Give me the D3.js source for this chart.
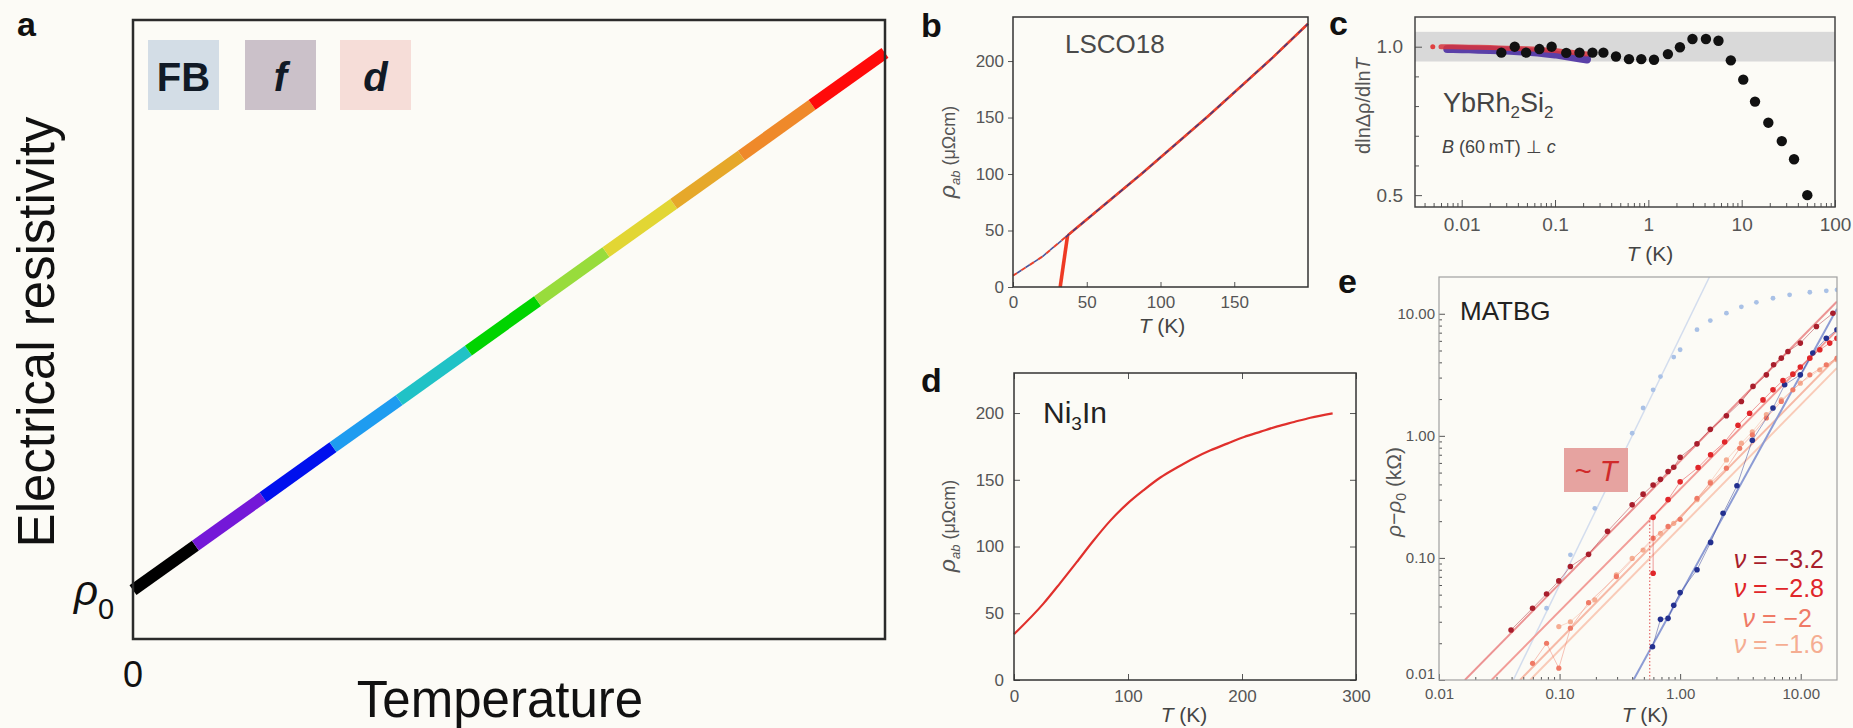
<!DOCTYPE html>
<html>
<head>
<meta charset="utf-8">
<script src="https://cdnjs.cloudflare.com/ajax/libs/d3/7.8.5/d3.min.js"></script>
<style>
  body { margin: 0; background: #fcfbf6; }
  svg { display: block; font-family: "Liberation Sans", Arial, sans-serif; }
</style>
</head>
<body>
<div id="chart"></div>
<script>
"use strict";

// == DATA ==
// panel a : coloured segments of the T-linear resistivity sketch
var aTemps  = [0, 8.3, 17.3, 26.6, 35.4, 44.6, 53.8, 62.9, 71.9, 80.9, 90.3, 100];
var aRho    = [7.9, 15.1, 22.9, 31.0, 38.6, 46.6, 54.6, 62.5, 70.3, 78.1, 86.3, 94.7];
var aColors = ["#000000", "#7418d8", "#0010ee", "#1e9cf0", "#20c2c6", "#00d400",
               "#98dc3c", "#e2d634", "#e6a82a", "#ef892a", "#ff0a0a"];
var aLegend = ["FB", "f", "d"];
var aLegendFill = ["#d3dde6", "#cbc1c9", "#f6ddd8"];

// panel b : LSCO18
var bFitT = [0, 20, 41, 87, 132, 176, 200];
var bFitRho = [10, 27, 50, 100, 151, 203, 233];
var bDataT = [32, 37, 41, 87, 132, 176, 200];
var bDataRho = [0, 45.6, 50, 100, 151, 203, 233];
var bTicksX = [0, 50, 100, 150];
var bTicksY = [0, 50, 100, 150, 200];

// panel c : YbRh2Si2
var cBlackT = [0.0266, 0.037, 0.049, 0.068, 0.092, 0.132, 0.183, 0.252, 0.33, 0.45, 0.62, 0.84, 1.15,
               1.62, 2.18, 2.97, 4.14, 5.64, 7.65, 10.4, 13.9, 19.3, 26.9, 36.4, 50.5];
var cBlackV = [0.98, 1.0, 0.98, 0.992, 1.0, 0.979, 0.98, 0.98, 0.98, 0.967, 0.958, 0.958, 0.956,
               0.975, 0.998, 1.026, 1.026, 1.02, 0.954, 0.889, 0.815, 0.744, 0.682, 0.621, 0.5];
var cRedT = [0.0049, 0.006, 0.007, 0.008, 0.01, 0.012, 0.015, 0.02, 0.025, 0.03, 0.04, 0.05,
             0.065, 0.08, 0.1, 0.12, 0.15, 0.18, 0.22];
var cRedV = [1.0, 1.0, 1.0, 1.0, 0.999, 0.998, 0.998, 0.997, 0.996, 0.995, 0.994, 0.993,
             0.991, 0.989, 0.987, 0.984, 0.981, 0.978, 0.975];
var cBlueT = [0.007, 0.008, 0.01, 0.012, 0.015, 0.02, 0.025, 0.03, 0.04, 0.05, 0.065, 0.08,
              0.1, 0.12, 0.15, 0.18, 0.22];
var cBlueV = [0.992, 0.992, 0.991, 0.991, 0.99, 0.989, 0.988, 0.987, 0.985, 0.983, 0.98, 0.977,
              0.974, 0.97, 0.965, 0.961, 0.957];
var cMajorX = [0.01, 0.1, 1, 10, 100];
var cMajorY = [0.5, 1.0];
var cMinorY = [0.6, 0.7, 0.8, 0.9];
var cBand = [0.95, 1.05];

// panel d : Ni3In
var dT = [0, 25.8, 40.5, 55, 69.8, 84.5, 99, 113.8, 128.4, 143, 157.8, 172.4, 187, 201.8,
          216.4, 231, 245.7, 260, 279.5];
var dRho = [34.3, 57.2, 72.6, 88.3, 104.5, 119.4, 131.8, 142.3, 151.7, 159.2, 166.2, 172.1,
            177.1, 182.1, 186.1, 190, 193.3, 196.5, 199.8];
var dTicksX = [0, 100, 200, 300];
var dTicksY = [0, 50, 100, 150, 200];

// panel e : MATBG
var eT32 = [0.0396, 0.0597, 0.078, 0.0986, 0.123, 0.174, 0.25, 0.40, 0.493, 0.597, 0.687, 0.794,
            0.885, 1.0, 1.38, 1.78, 2.42, 3.22, 4.02, 5.19, 5.96, 6.9, 7.84, 9.93, 13.5, 18.5];
var eV32 = [0.0257, 0.0387, 0.0507, 0.0648, 0.085, 0.107, 0.165, 0.272, 0.333, 0.396, 0.44, 0.51,
            0.553, 0.668, 0.86, 1.13, 1.46, 1.91, 2.54, 3.16, 3.82, 4.33, 4.91, 5.75, 7.87, 10.1];
var eT28 = [0.597, 0.597, 0.794, 1.0, 1.41, 1.79, 2.34, 3.02, 3.77, 4.87, 5.89, 7.13, 8.61,
            9.93, 11.9, 14.4, 17.4, 20];
var eV28 = [0.0748, 0.215, 0.30, 0.42, 0.55, 0.70, 0.89, 1.22, 1.53, 1.97, 2.38, 2.84, 3.2,
            3.66, 4.33, 5.07, 5.75, 6.3];
var eT20 = [0.0597, 0.078, 0.0986, 0.123, 0.174, 0.296, 0.597, 0.794, 1.0, 1.38, 1.78, 2.42,
            3.12, 3.97, 5.19, 6.9, 8.61, 11.9, 16.3, 20];
var eV20 = [0.0137, 0.02, 0.0125, 0.0266, 0.043, 0.0703, 0.145, 0.181, 0.207, 0.308, 0.41, 0.543,
            0.79, 1.02, 1.40, 1.91, 2.38, 3.16, 3.82, 4.33];
var eT16 = [0.0986, 0.123, 0.196, 0.296, 0.40, 0.493, 0.687, 0.885, 1.38, 1.78, 2.42, 3.22,
            3.97, 5.19, 6.9, 9.93, 14.4, 20];
var eV16 = [0.0274, 0.030, 0.0453, 0.0726, 0.099, 0.116, 0.159, 0.192, 0.30, 0.42, 0.635, 0.87,
            1.08, 1.49, 1.97, 2.7, 3.47, 4.2];
var eTBlue = [0.59, 0.687, 0.794, 0.885, 1.0, 1.38, 1.79, 2.27, 2.96, 3.97, 5.89, 7.36, 9.93,
              12.6, 16.3, 20];
var eVBlue = [0.0187, 0.0314, 0.032, 0.041, 0.052, 0.08, 0.134, 0.232, 0.39, 0.92, 1.69, 2.62,
              3.16, 4.76, 6.3, 7.4];
var eTPale = [0.078, 0.123, 0.196, 0.40, 0.493, 0.597, 0.687, 0.885, 1.0, 1.38, 1.78, 2.42,
              3.22, 4.29, 5.89, 8.09, 11.9, 16.3, 20];
var eVPale = [0.0387, 0.106, 0.255, 1.05, 1.69, 2.38, 3.06, 4.42, 5.07, 7.4, 8.8, 10.1,
              11.4, 12.4, 13.4, 14.3, 15.0, 15.4, 15.7];
// straight fits, [T, rho-rho0] end points
var eFit32 = [[0.0164, 0.01], [20, 12.6]];
var eFit28 = [[0.0273, 0.01], [20, 7.3]];
var eFit20 = [[0.047, 0.01], [20, 4.4]];
var eFit16 = [[0.057, 0.01], [20, 3.6]];
var eFitBlue = [[0.41, 0.01], [20, 11]];
var eFitPale = [[0.0413, 0.01], [1.75, 20]];
var eDrop = [[0.56, 0.01], [0.56, 0.215]];
var eLegend = ["\u22123.2", "\u22122.8", "\u22122", "\u22121.6"];
var eLegendColors = ["#a81e2c", "#e0262a", "#ef7a66", "#f5ad92"];
var eMajor = [0.01, 0.1, 1, 10];

// == BOILERPLATE ==
var width = 1853, height = 728;
var svg = d3.select("#chart").append("svg")
  .attr("width", width)
  .attr("height", height);
svg.append("rect").attr("width", width).attr("height", height).attr("fill", "#fcfbf6");

var FONT = "Liberation Sans, Arial, sans-serif";

function frame(x0, y0, x1, y1, color, w) {
  svg.append("rect")
    .attr("x", x0).attr("y", y0)
    .attr("width", x1 - x0).attr("height", y1 - y0)
    .attr("fill", "none").attr("stroke", color).attr("stroke-width", w);
}

function tidy(g, size, color) {
  g.attr("font-family", FONT).attr("font-size", size);
  g.select(".domain").remove();
  g.selectAll("line").attr("stroke", "#555");
  g.selectAll("text").attr("fill", color);
}

// rotated label built from pieces (text, size, italic, dy)
function rotLabel(x, y, parts, color) {
  var t = svg.append("text")
    .attr("transform", "translate(" + x + "," + y + ") rotate(-90)")
    .attr("text-anchor", "middle")
    .attr("fill", color);
  parts.forEach(function(p) {
    t.append("tspan").text(p[0]).attr("font-size", p[1])
      .attr("font-style", p[2] ? "italic" : null).attr("dy", p[3] || 0);
  });
  return t;
}

function tkLabel(x, y, size) {
  var t = svg.append("text").attr("x", x).attr("y", y)
    .attr("text-anchor", "middle").attr("font-size", size).attr("fill", "#444");
  t.append("tspan").text("T").attr("font-style", "italic");
  t.append("tspan").text(" (K)");
}

function minorLog(domain) {
  var out = [];
  for (var e = -3; e <= 2; e++) {
    for (var m = 2; m <= 9; m++) {
      var v = m * Math.pow(10, e);
      if (v > domain[0] && v < domain[1]) out.push(v);
    }
  }
  return out;
}

// panel letters
var letters = [["a", 17, 36], ["b", 921, 37], ["c", 1329, 35], ["d", 921, 392], ["e", 1338, 293]];
letters.forEach(function(l) {
  svg.append("text").attr("x", l[1]).attr("y", l[2]).text(l[0])
    .attr("font-size", 34).attr("font-weight", "bold").attr("fill", "#111");
});

// == PANEL A ==
var ax = d3.scaleLinear().domain([0, 100]).range([133, 885]);
var ay = d3.scaleLinear().domain([0, 100]).range([639, 20]);

aColors.forEach(function(c, i) {
  svg.append("line")
    .attr("x1", ax(aTemps[i])).attr("y1", ay(aRho[i]))
    .attr("x2", ax(aTemps[i + 1])).attr("y2", ay(aRho[i + 1]))
    .attr("stroke", c).attr("stroke-width", 12).attr("stroke-linecap", "butt");
});
frame(133, 20, 885, 639, "#2b2b2b", 2.5);

aLegend.forEach(function(s, i) {
  var x0 = [148, 245, 340][i];
  svg.append("rect").attr("x", x0).attr("y", 40).attr("width", 71).attr("height", 70)
    .attr("fill", aLegendFill[i]);
  svg.append("text").attr("x", x0 + 35.5).attr("y", 91).text(s)
    .attr("text-anchor", "middle").attr("font-size", 40).attr("font-weight", "bold")
    .attr("font-style", i > 0 ? "italic" : null).attr("fill", "#111a26");
});

var rho0 = svg.append("text").attr("x", 74).attr("y", 605).attr("fill", "#111");
rho0.append("tspan").text("\u03c1").attr("font-size", 42).attr("font-style", "italic");
rho0.append("tspan").text("0").attr("font-size", 29).attr("dy", 14);

svg.append("text").attr("x", ax(0)).attr("y", 687).text("0")
  .attr("text-anchor", "middle").attr("font-size", 36).attr("fill", "#111");
svg.append("text").attr("x", 500).attr("y", 717).text("Temperature")
  .attr("text-anchor", "middle").attr("font-size", 51).attr("fill", "#111");
rotLabel(54, 332, [["Electrical resistivity", 51]], "#111");

// == PANEL B ==
var bx = d3.scaleLinear().domain([0, 200]).range([1013, 1308]);
var by = d3.scaleLinear().domain([0, 239]).range([287, 17]);

var bFit = d3.line().x(function(d) { return bx(d[0]); }).y(function(d) { return by(d[1]); });
var bFitPts = bFitT.map(function(t, i) { return [t, bFitRho[i]]; });
var bDataPts = bDataT.map(function(t, i) { return [t, bDataRho[i]]; });

svg.append("path").attr("d", bFit(bFitPts)).attr("fill", "none")
  .attr("stroke", "#e8412c").attr("stroke-width", 2).attr("stroke-dasharray", "5,5");
svg.append("path").attr("d", bFit(bDataPts.slice(1))).attr("fill", "none")
  .attr("stroke", "#e8412c").attr("stroke-width", 2.6);
svg.append("path").attr("d", bFit(bDataPts.slice(0, 2))).attr("fill", "none")
  .attr("stroke", "#ee3a24").attr("stroke-width", 3.6);
svg.append("path").attr("d", bFit(bFitPts)).attr("fill", "none")
  .attr("stroke", "#2c3a8c").attr("stroke-width", 1.6).attr("stroke-dasharray", "5,5")
  .attr("stroke-dashoffset", 5).attr("opacity", 0.85);

var bxAxis = svg.append("g").attr("transform", "translate(0,287)")
  .call(d3.axisBottom(bx).tickValues(bTicksX).tickSize(-5).tickPadding(9));
tidy(bxAxis, 17, "#555");
var byAxis = svg.append("g").attr("transform", "translate(1013,0)")
  .call(d3.axisLeft(by).tickValues(bTicksY).tickSize(5).tickPadding(4));
tidy(byAxis, 17, "#555");
frame(1013, 17, 1308, 287, "#333", 1.5);

svg.append("text").attr("x", 1065).attr("y", 53).text("LSCO18")
  .attr("font-size", 26).attr("fill", "#4a4a4a");
tkLabel(1162, 333, 21);
rotLabel(955, 152, [["\u03c1", 23, true], ["ab", 13, true, 5], [" (\u03bc\u03a9cm)", 18, false, -5]], "#555");

// == PANEL C ==
var cx = d3.scaleLog().domain([0.00316, 100]).range([1415, 1835]);
var cy = d3.scaleLinear().domain([0.46, 1.10]).range([207, 17]);

svg.append("rect").attr("x", 1415).attr("width", 420)
  .attr("y", cy(cBand[1])).attr("height", cy(cBand[0]) - cy(cBand[1]))
  .attr("fill", "#d9d9d9");

var cLine = d3.line().x(function(d) { return cx(d[0]); }).y(function(d) { return cy(d[1]); });
svg.append("path").attr("d", cLine(cBlueT.map(function(t, i) { return [t, cBlueV[i]]; })))
  .attr("fill", "none").attr("stroke", "#5a40a8").attr("stroke-width", 8)
  .attr("stroke-linecap", "round");
svg.append("path").attr("d", cLine(cRedT.slice(1).map(function(t, i) { return [t, cRedV[i + 1]]; })))
  .attr("fill", "none").attr("stroke", "#d8343c").attr("stroke-width", 5)
  .attr("stroke-linecap", "round").attr("opacity", 0.85);
svg.append("circle").attr("cx", cx(cRedT[0])).attr("cy", cy(cRedV[0])).attr("r", 2.5)
  .attr("fill", "#e04040");

svg.selectAll(".cdot").data(cBlackT).enter().append("circle")
  .attr("class", "cdot")
  .attr("cx", function(d) { return cx(d); })
  .attr("cy", function(d, i) { return cy(cBlackV[i]); })
  .attr("r", 5.2).attr("fill", "#111");

var cxAxis = svg.append("g").attr("transform", "translate(0,207)")
  .call(d3.axisBottom(cx).tickValues(cMajorX).tickSize(-7).tickPadding(11)
    .tickFormat(function(d) { return String(d); }));
tidy(cxAxis, 19, "#555");
var cxMinor = svg.append("g").attr("transform", "translate(0,207)")
  .call(d3.axisBottom(cx).tickValues(minorLog(cx.domain())).tickSize(-4).tickFormat(""));
tidy(cxMinor, 10, "#555");
var cyAxis = svg.append("g").attr("transform", "translate(1415,0)")
  .call(d3.axisLeft(cy).tickValues(cMajorY).tickSize(-7).tickPadding(12)
    .tickFormat(d3.format(".1f")));
tidy(cyAxis, 19, "#555");
var cyMinor = svg.append("g").attr("transform", "translate(1415,0)")
  .call(d3.axisLeft(cy).tickValues(cMinorY).tickSize(-4).tickFormat(""));
tidy(cyMinor, 10, "#555");
frame(1415, 17, 1835, 207, "#444", 1.5);

var yb = svg.append("text").attr("x", 1443).attr("y", 112).attr("font-size", 27).attr("fill", "#444");
yb.append("tspan").text("YbRh");
yb.append("tspan").text("2").attr("font-size", 17).attr("dy", 6);
yb.append("tspan").text("Si").attr("dy", -6);
yb.append("tspan").text("2").attr("font-size", 17).attr("dy", 6);
var bf = svg.append("text").attr("x", 1442).attr("y", 153).attr("font-size", 18).attr("fill", "#444");
bf.append("tspan").text("B").attr("font-style", "italic");
bf.append("tspan").text(" (60\u2009mT) \u22a5 ");
bf.append("tspan").text("c").attr("font-style", "italic");
tkLabel(1650, 261, 21);
rotLabel(1370, 106, [["dln\u0394\u03c1/dln", 20], ["T", 20, true]], "#555");

// == PANEL D ==
var dx = d3.scaleLinear().domain([0, 300]).range([1014, 1356]);
var dy = d3.scaleLinear().domain([0, 230]).range([680, 373]);

svg.append("path")
  .attr("d", d3.line().curve(d3.curveMonotoneX)
    .x(function(d) { return dx(d); })
    .y(function(d, i) { return dy(dRho[i]); })(dT))
  .attr("fill", "none").attr("stroke", "#e0302c").attr("stroke-width", 2.2);

var dxAxis = svg.append("g").attr("transform", "translate(0,680)")
  .call(d3.axisBottom(dx).tickValues(dTicksX).tickSize(-6).tickPadding(10));
tidy(dxAxis, 17, "#555");
var dxTop = svg.append("g").attr("transform", "translate(0,373)")
  .call(d3.axisTop(dx).tickValues(dTicksX).tickSize(-6).tickFormat(""));
tidy(dxTop, 10, "#555");
var dyAxis = svg.append("g").attr("transform", "translate(1014,0)")
  .call(d3.axisLeft(dy).tickValues(dTicksY).tickSize(-6).tickPadding(10));
tidy(dyAxis, 17, "#555");
var dyRight = svg.append("g").attr("transform", "translate(1356,0)")
  .call(d3.axisRight(dy).tickValues(dTicksY).tickSize(-6).tickFormat(""));
tidy(dyRight, 10, "#555");
frame(1014, 373, 1356, 680, "#333", 1.5);

var ni = svg.append("text").attr("x", 1043).attr("y", 423).attr("font-size", 30).attr("fill", "#222");
ni.append("tspan").text("Ni");
ni.append("tspan").text("3").attr("font-size", 19).attr("dy", 7);
ni.append("tspan").text("In").attr("dy", -7);
tkLabel(1184, 722, 21);
rotLabel(955, 526, [["\u03c1", 23, true], ["ab", 13, true, 5], [" (\u03bc\u03a9cm)", 18, false, -5]], "#555");

// == PANEL E ==
var ex = d3.scaleLog().domain([0.01, 20]).range([1439, 1837]);
var ey = d3.scaleLog().domain([0.01, 20]).range([680, 277]);

svg.append("clipPath").attr("id", "eclip").append("rect")
  .attr("x", 1439).attr("y", 277).attr("width", 398).attr("height", 403);
var eg = svg.append("g").attr("clip-path", "url(#eclip)");
var eLine = d3.line().x(function(d) { return ex(d[0]); }).y(function(d) { return ey(d[1]); });

function fit(pts, color, w) {
  eg.append("path").attr("d", eLine(pts)).attr("fill", "none")
    .attr("stroke", color).attr("stroke-width", w);
}
function series(ts, vs, color, r, joined) {
  var pts = ts.map(function(t, i) { return [t, vs[i]]; });
  if (joined) {
    eg.append("path").attr("d", eLine(pts)).attr("fill", "none")
      .attr("stroke", color).attr("stroke-width", 1).attr("opacity", 0.45);
  }
  eg.selectAll(null).data(pts).enter().append("circle")
    .attr("cx", function(d) { return ex(d[0]); })
    .attr("cy", function(d) { return ey(d[1]); })
    .attr("r", r).attr("fill", color);
}

fit(eFitPale, "#d3ddee", 1.5);
series(eTPale, eVPale, "#a9c1e6", 2.4, false);
fit(eFit16, "#f9cbb8", 2);
fit(eFit20, "#f6b9a6", 2);
fit(eFit28, "#f29d98", 2);
fit(eFit32, "#ec9494", 2);
fit(eFitBlue, "#8c9bd4", 2);
eg.append("path").attr("d", eLine(eDrop)).attr("fill", "none")
  .attr("stroke", "#e04a4a").attr("stroke-width", 1).attr("stroke-dasharray", "1.5,2");
series(eT16, eV16, "#f5ad92", 2.6, true);
series(eT20, eV20, "#ef7a66", 2.6, true);
series(eTBlue, eVBlue, "#23308f", 2.8, true);
series(eT28, eV28, "#e0262a", 2.8, true);
series(eT32, eV32, "#a81e2c", 2.8, true);

var exAxis = svg.append("g").attr("transform", "translate(0,680)")
  .call(d3.axisBottom(ex).tickValues(eMajor).tickSize(-6).tickPadding(8)
    .tickFormat(function(d) { return d.toFixed(2); }));
tidy(exAxis, 15, "#555");
var exMinor = svg.append("g").attr("transform", "translate(0,680)")
  .call(d3.axisBottom(ex).tickValues(minorLog(ex.domain())).tickSize(-3).tickFormat(""));
tidy(exMinor, 10, "#555");
var eyAxis = svg.append("g").attr("transform", "translate(1439,0)")
  .call(d3.axisLeft(ey).tickValues(eMajor).tickSize(-6).tickPadding(4)
    .tickFormat(function(d) { return d.toFixed(2); }));
tidy(eyAxis, 15, "#555");
eyAxis.selectAll(".tick text").filter(function(d) { return d === 0.01; }).attr("dy", "-0.1em");
var eyMinor = svg.append("g").attr("transform", "translate(1439,0)")
  .call(d3.axisLeft(ey).tickValues(minorLog(ey.domain())).tickSize(-3).tickFormat(""));
tidy(eyMinor, 10, "#555");
frame(1439, 277, 1837, 680, "#a0a0a0", 1.2);

svg.append("text").attr("x", 1460).attr("y", 320).text("MATBG")
  .attr("font-size", 26).attr("fill", "#222");
svg.append("rect").attr("x", 1564).attr("y", 448).attr("width", 64).attr("height", 44)
  .attr("fill", "#e6a3a0");
var simT = svg.append("text").attr("x", 1596).attr("y", 481).attr("text-anchor", "middle")
  .attr("font-size", 29).attr("fill", "#d02a2a");
simT.append("tspan").text("~ ");
simT.append("tspan").text("T").attr("font-style", "italic");

eLegend.forEach(function(s, i) {
  var t = svg.append("text").attr("x", i === 2 ? 1812 : 1824).attr("y", [568, 597, 627, 653][i])
    .attr("text-anchor", "end").attr("font-size", 25).attr("fill", eLegendColors[i]);
  t.append("tspan").text("\u03bd").attr("font-style", "italic");
  t.append("tspan").text(" = " + s);
});
tkLabel(1645, 722, 21);
rotLabel(1401, 492, [["\u03c1\u2212\u03c1", 21, true], ["0", 14, false, 5], [" (k\u03a9)", 21, false, -5]], "#555");
</script>
</body>
</html>
